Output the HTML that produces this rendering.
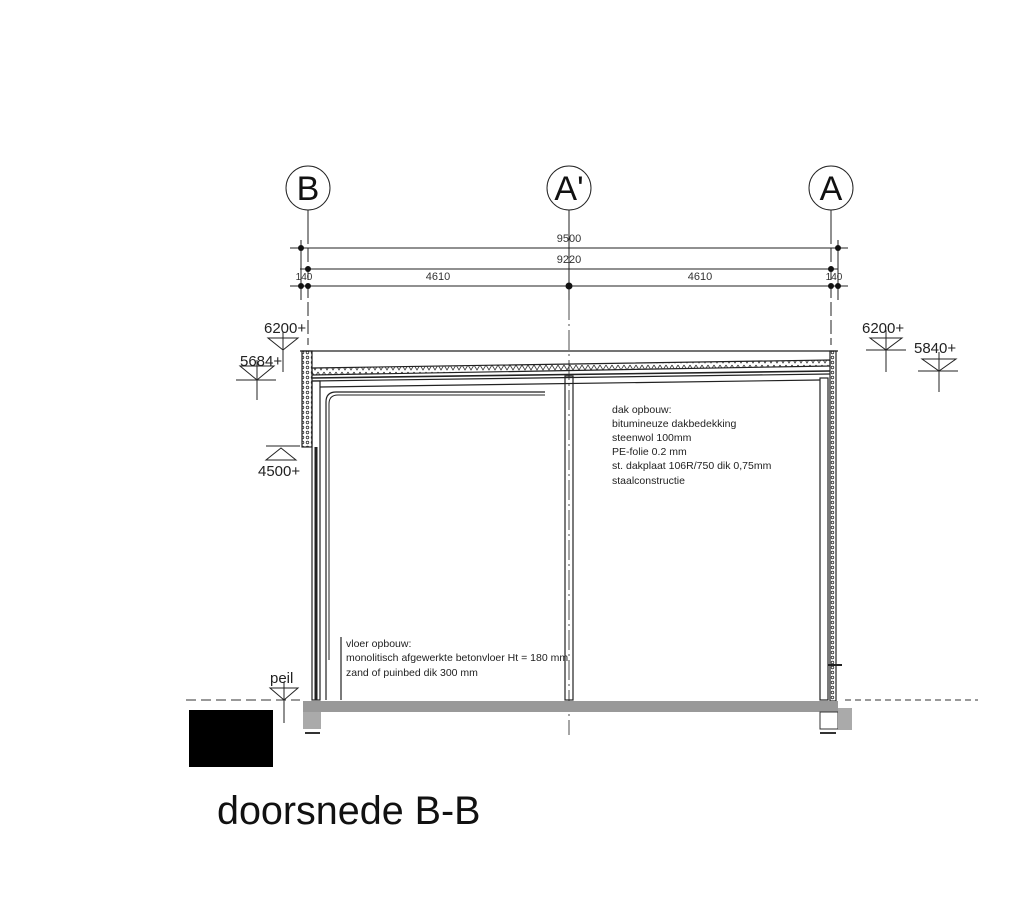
<!DOCTYPE html>
<html><head><meta charset="utf-8"><style>
html,body{margin:0;padding:0;background:#fff;}
svg{display:block;font-family:"Liberation Sans",sans-serif;}
</style></head><body>
<svg width="1024" height="898" viewBox="0 0 1024 898" xmlns="http://www.w3.org/2000/svg">
<defs>
<pattern id="ins" width="6" height="7" patternUnits="userSpaceOnUse">
<path d="M0,1 L3,6 L6,1" fill="none" stroke="#333" stroke-width="0.8"/>
</pattern>
<pattern id="hv" width="5" height="5" patternUnits="userSpaceOnUse">
<circle cx="2.5" cy="2.5" r="1.3" fill="none" stroke="#333" stroke-width="0.8"/>
</pattern>
</defs>
<g stroke="#222" fill="none" stroke-width="1">
<circle cx="308" cy="188" r="22"/>
<circle cx="569" cy="188" r="22"/>
<circle cx="831" cy="188" r="22"/>
<line x1="308" y1="210" x2="308" y2="230"/>
<line x1="569" y1="210" x2="569" y2="300"/>
<line x1="831" y1="210" x2="831" y2="230"/>
<line x1="308" y1="230" x2="308" y2="345" stroke-dasharray="14,4"/>
<line x1="569" y1="300" x2="569" y2="735" stroke-dasharray="20,4,2,4" stroke-width="0.8"/>
<line x1="831" y1="230" x2="831" y2="345" stroke-dasharray="14,4"/>
<line x1="290" y1="248" x2="848" y2="248"/>
<line x1="300" y1="269" x2="838" y2="269"/>
<line x1="290" y1="286" x2="848" y2="286"/>
<line x1="301" y1="240" x2="301" y2="300"/>
<line x1="838" y1="240" x2="838" y2="300"/>
</g>
<g fill="#111">
<circle cx="301" cy="248" r="3"/><circle cx="838" cy="248" r="3"/>
<circle cx="308" cy="269" r="3"/><circle cx="831" cy="269" r="3"/>
<circle cx="301" cy="286" r="3"/><circle cx="308" cy="286" r="3"/><circle cx="569" cy="286" r="3.5"/>
<circle cx="831" cy="286" r="3"/><circle cx="838" cy="286" r="3"/>
</g>
<g font-size="11" fill="#333" text-anchor="middle">
<text x="569" y="242">9500</text>
<text x="569" y="263">9220</text>
<text x="438" y="280">4610</text>
<text x="700" y="280">4610</text>
<text x="304" y="280" font-size="10">140</text>
<text x="834" y="280" font-size="10">140</text>
</g>
<g font-size="34" fill="#111" text-anchor="middle">
<text x="308" y="200">B</text>
<text x="569" y="200">A'</text>
<text x="831" y="200">A</text>
</g>
<g stroke="#222" fill="none" stroke-width="1.2">
<line x1="300" y1="351" x2="838" y2="351"/>
<polygon points="312,368 830,360 830,366 312,375" fill="url(#ins)"/>
<line x1="312" y1="378" x2="830" y2="371" stroke-width="1.6"/>
<line x1="312" y1="381" x2="830" y2="374"/>
<line x1="320" y1="387" x2="820" y2="380"/>
<rect x="302" y="351" width="10" height="96" fill="url(#hv)"/>
<rect x="312" y="381" width="8" height="319"/>
<line x1="316" y1="447" x2="316" y2="700" stroke-width="3"/>
<path d="M326,700 V402 Q326,392 336,392 H545" stroke-width="1.2"/>
<path d="M329,660 V404 Q329,395 338,395 H545" stroke-width="1"/>
<rect x="565" y="376" width="8" height="324"/>
<rect x="820" y="378" width="8" height="322"/>
<rect x="830" y="351" width="6" height="350" fill="url(#hv)"/>
<line x1="828" y1="665" x2="842" y2="665" stroke-width="2"/>
<line x1="341" y1="637" x2="341" y2="700"/>
</g>
<g>
<rect x="303" y="701" width="535" height="11" fill="#999"/>
<rect x="303" y="712" width="18" height="17" fill="#aaa"/>
<rect x="820" y="712" width="18" height="17" fill="#fff" stroke="#333"/>
<rect x="838" y="708" width="14" height="22" fill="#aaa"/>
<line x1="305" y1="733" x2="320" y2="733" stroke="#333" stroke-width="2"/>
<line x1="820" y1="733" x2="836" y2="733" stroke="#333" stroke-width="2"/>
<line x1="186" y1="700" x2="300" y2="700" stroke="#333" stroke-dasharray="10,5"/>
<line x1="845" y1="700" x2="978" y2="700" stroke="#333" stroke-dasharray="6,4"/>
<rect x="189" y="710" width="84" height="57" fill="#000"/>
</g>
<g stroke="#222" fill="none" stroke-width="1">
<path d="M268,338 H298 L283,350 Z"/><line x1="283" y1="332" x2="283" y2="372"/>
<path d="M240,366 H274 L257,380 Z"/><line x1="236" y1="380" x2="276" y2="380"/><line x1="257" y1="360" x2="257" y2="400"/>
<path d="M266,460 H296 L281,448 Z"/><line x1="266" y1="446" x2="300" y2="446"/>
<path d="M870,338 H902 L886,350 Z"/><line x1="866" y1="350" x2="906" y2="350"/><line x1="886" y1="330" x2="886" y2="372"/>
<path d="M922,359 H956 L939,371 Z"/><line x1="918" y1="371" x2="958" y2="371"/><line x1="939" y1="352" x2="939" y2="392"/>
<path d="M270,688 H298 L284,700 Z"/><line x1="284" y1="682" x2="284" y2="723"/>
</g>
<g font-size="15" fill="#222">
<text x="264" y="333">6200+</text>
<text x="240" y="366">5684+</text>
<text x="258" y="476">4500+</text>
<text x="862" y="333">6200+</text>
<text x="914" y="353">5840+</text>
<text x="270" y="683">peil</text>
</g>
<g font-size="10.5" fill="#222">
<text x="612" y="413">dak opbouw:</text>
<text x="612" y="427">bitumineuze dakbedekking</text>
<text x="612" y="441">steenwol 100mm</text>
<text x="612" y="455">PE-folie 0.2 mm</text>
<text x="612" y="469">st. dakplaat 106R/750 dik 0,75mm</text>
<text x="612" y="484">staalconstructie</text>
<text x="346" y="647">vloer opbouw:</text>
<text x="346" y="661">monolitisch afgewerkte betonvloer Ht = 180 mm</text>
<text x="346" y="676">zand of puinbed dik 300 mm</text>
</g>
<text x="217" y="824" font-size="39.5" fill="#111">doorsnede B-B</text>
</svg>
</body></html>
